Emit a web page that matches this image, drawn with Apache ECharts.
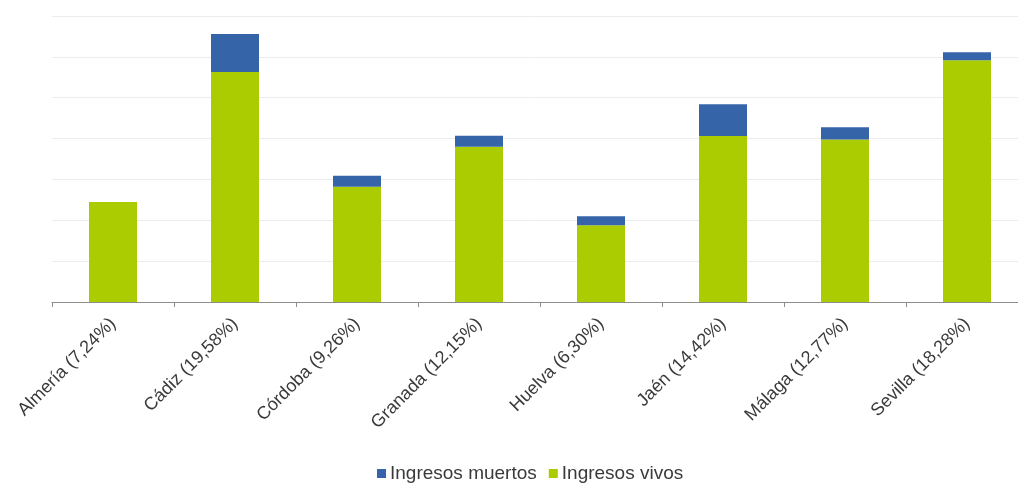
<!DOCTYPE html>
<html>
<head>
<meta charset="utf-8">
<script src="https://cdn.jsdelivr.net/npm/echarts@6/dist/echarts.min.js"></script>
<style>
html,body{margin:0;padding:0;background:#fff;}
#c{width:1018px;height:484px;}
</style>
</head>
<body>
<div id="c"></div>
<script>
const categories = ['Almería (7,24%)','Cádiz (19,58%)','Córdoba (9,26%)','Granada (12,15%)','Huelva (6,30%)','Jaén (14,42%)','Málaga (12,77%)','Sevilla (18,28%)'];
const vivos = [2.45, 5.63, 2.82, 3.80, 1.88, 4.06, 3.98, 5.92];
const muertos = [0, 0.93, 0.27, 0.27, 0.22, 0.78, 0.30, 0.19];

const chart = echarts.init(document.getElementById('c'));
chart.setOption({
  animation: false,
  textStyle: {fontFamily: 'Liberation Sans, Arial, sans-serif'},
  grid: {left: 52, width: 976, top: 16, bottom: 182, containLabel: false, outerBoundsMode: 'none'},
  legend: {
    bottom: -4, left: 372,
    data: ['Ingresos muertos', 'Ingresos vivos'],
    icon: 'rect', itemWidth: 9, itemHeight: 9, itemGap: 12,
    textStyle: {fontSize: 19, color: '#3a3a3a', padding: [0,0,0,-1]}
  },
  xAxis: {
    type: 'category', data: categories,
    axisLine: {lineStyle: {color: '#8c8c8c', width: 1}},
    axisTick: {show: true, length: 5, lineStyle: {color: '#8c8c8c'}},
    axisLabel: {rotate: 45, fontSize: 18, color: '#3a3a3a', margin: 19, interval: 0}
  },
  yAxis: {
    type: 'value', min: 0, max: 7, interval: 1,
    axisLabel: {show: false}, axisLine: {show: false}, axisTick: {show: false},
    splitLine: {lineStyle: {color: '#ececec', width: 1}}
  },
  series: [
    {name: 'Ingresos vivos', type: 'bar', stack: 't', data: vivos, barWidth: 48, itemStyle: {color: '#aacc00'}},
    {name: 'Ingresos muertos', type: 'bar', stack: 't', data: muertos, barWidth: 48, itemStyle: {color: '#3565a8'}}
  ]
});
</script>
</body>
</html>
